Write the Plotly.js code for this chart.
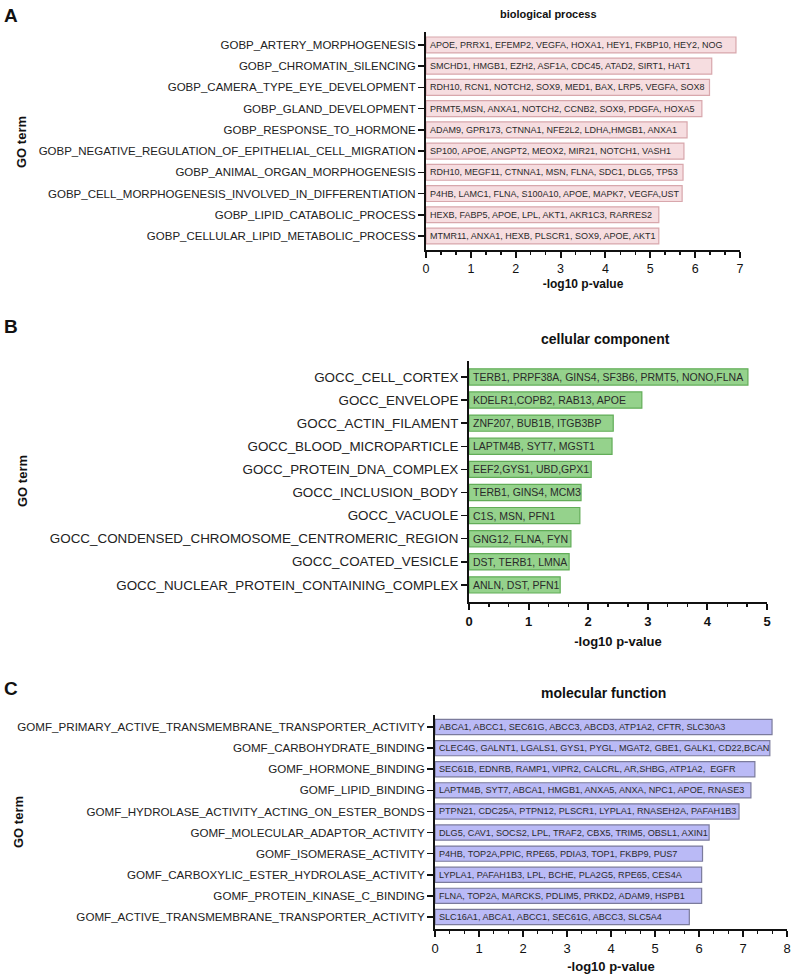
<!DOCTYPE html>
<html>
<head>
<meta charset="utf-8">
<script src="https://cdn.plot.ly/plotly-3.0.1.min.js"></script>
<style>html,body{margin:0;padding:0;background:#fff;}#chart{width:793px;height:980px;}</style>
</head>
<body>
<div id="chart"></div>
<script>
// ---------- DATA ----------
const bpTerms = [
  "GOBP_ARTERY_MORPHOGENESIS",
  "GOBP_CHROMATIN_SILENCING",
  "GOBP_CAMERA_TYPE_EYE_DEVELOPMENT",
  "GOBP_GLAND_DEVELOPMENT",
  "GOBP_RESPONSE_TO_HORMONE",
  "GOBP_NEGATIVE_REGULATION_OF_EPITHELIAL_CELL_MIGRATION",
  "GOBP_ANIMAL_ORGAN_MORPHOGENESIS",
  "GOBP_CELL_MORPHOGENESIS_INVOLVED_IN_DIFFERENTIATION",
  "GOBP_LIPID_CATABOLIC_PROCESS",
  "GOBP_CELLULAR_LIPID_METABOLIC_PROCESS"
];
const bpValues = [6.91, 6.37, 6.32, 6.15, 5.82, 5.75, 5.73, 5.71, 5.19, 5.19];
const bpGenes = [
  "APOE, PRRX1, EFEMP2, VEGFA, HOXA1, HEY1, FKBP10, HEY2, NOG",
  "SMCHD1, HMGB1, EZH2, ASF1A, CDC45, ATAD2, SIRT1, HAT1",
  "RDH10, RCN1, NOTCH2, SOX9, MED1, BAX, LRP5, VEGFA, SOX8",
  "PRMT5,MSN, ANXA1, NOTCH2, CCNB2, SOX9, PDGFA, HOXA5",
  "ADAM9, GPR173, CTNNA1, NFE2L2, LDHA,HMGB1, ANXA1",
  "SP100, APOE, ANGPT2, MEOX2, MIR21, NOTCH1, VASH1",
  "RDH10, MEGF11, CTNNA1, MSN, FLNA, SDC1, DLG5, TP53",
  "P4HB, LAMC1, FLNA, S100A10, APOE, MAPK7, VEGFA,UST",
  "HEXB, FABP5, APOE, LPL, AKT1, AKR1C3, RARRES2",
  "MTMR11, ANXA1, HEXB, PLSCR1, SOX9, APOE, AKT1"
];

const ccTerms = [
  "GOCC_CELL_CORTEX",
  "GOCC_ENVELOPE",
  "GOCC_ACTIN_FILAMENT",
  "GOCC_BLOOD_MICROPARTICLE",
  "GOCC_PROTEIN_DNA_COMPLEX",
  "GOCC_INCLUSION_BODY",
  "GOCC_VACUOLE",
  "GOCC_CONDENSED_CHROMOSOME_CENTROMERIC_REGION",
  "GOCC_COATED_VESICLE",
  "GOCC_NUCLEAR_PROTEIN_CONTAINING_COMPLEX"
];
const ccValues = [4.68, 2.90, 2.42, 2.40, 2.05, 1.88, 1.86, 1.71, 1.68, 1.53];
const ccGenes = [
  "TERB1, PRPF38A, GINS4, SF3B6, PRMT5, NONO,FLNA",
  "KDELR1,COPB2, RAB13, APOE",
  "ZNF207, BUB1B, ITGB3BP",
  "LAPTM4B, SYT7, MGST1",
  "EEF2,GYS1, UBD,GPX1",
  "TERB1, GINS4, MCM3",
  "C1S, MSN, PFN1",
  "GNG12, FLNA, FYN",
  "DST, TERB1, LMNA",
  "ANLN, DST, PFN1"
];

const mfTerms = [
  "GOMF_PRIMARY_ACTIVE_TRANSMEMBRANE_TRANSPORTER_ACTIVITY",
  "GOMF_CARBOHYDRATE_BINDING",
  "GOMF_HORMONE_BINDING",
  "GOMF_LIPID_BINDING",
  "GOMF_HYDROLASE_ACTIVITY_ACTING_ON_ESTER_BONDS",
  "GOMF_MOLECULAR_ADAPTOR_ACTIVITY",
  "GOMF_ISOMERASE_ACTIVITY",
  "GOMF_CARBOXYLIC_ESTER_HYDROLASE_ACTIVITY",
  "GOMF_PROTEIN_KINASE_C_BINDING",
  "GOMF_ACTIVE_TRANSMEMBRANE_TRANSPORTER_ACTIVITY"
];
const mfValues = [7.66, 7.61, 7.27, 7.18, 6.91, 6.23, 6.08, 6.06, 6.06, 5.78];
const mfGenes = [
  "ABCA1, ABCC1, SEC61G, ABCC3, ABCD3, ATP1A2, CFTR, SLC30A3",
  "CLEC4G, GALNT1, LGALS1, GYS1, PYGL, MGAT2, GBE1, GALK1, CD22,BCAN",
  "SEC61B, EDNRB, RAMP1, VIPR2, CALCRL, AR,SHBG, ATP1A2,  EGFR",
  "LAPTM4B, SYT7, ABCA1, HMGB1, ANXA5, ANXA, NPC1, APOE, RNASE3",
  "PTPN21, CDC25A, PTPN12, PLSCR1, LYPLA1, RNASEH2A, PAFAH1B3",
  "DLG5, CAV1, SOCS2, LPL, TRAF2, CBX5, TRIM5, OBSL1, AXIN1",
  "P4HB, TOP2A,PPIC, RPE65, PDIA3, TOP1, FKBP9, PUS7",
  "LYPLA1, PAFAH1B3, LPL, BCHE, PLA2G5, RPE65, CES4A",
  "FLNA, TOP2A, MARCKS, PDLIM5, PRKD2, ADAM9, HSPB1",
  "SLC16A1, ABCA1, ABCC1, SEC61G, ABCC3, SLC5A4"
];

const panelTitles = ["biological process", "cellular component", "molecular function"];
const panelLetters = ["A", "B", "C"];
const xTitle = "-log10 p-value";
const yTitle = "GO term";

// ---------- LAYOUT HELPERS ----------
const W = 793, H = 980;
const fx = px => px / W;
const fy = py => 1 - py / H;
const FONT = "Liberation Sans, Arial, sans-serif";

const panels = [
  {terms: bpTerms, vals: bpValues, genes: bpGenes, fill: "#f6dde0", line: "#d8a7ac",
   x0: 426, x1: 740, yTop: 32, yBot: 250, xmax: 7, yr: [9.66, -0.61], bw: 0.75,
   tickSize: 11.5, geneSize: 9.0, xTickSize: 12.5, xTickWeight: "normal", xTitleSize: 12, standoff: 5,
   title: {x: 548, y: 14, size: 11}, letter: {x: 2, y: 16}, ytl: {x: 22, y: 142}},
  {terms: ccTerms, vals: ccValues, genes: ccGenes, fill: "#95d28c", line: "#62ad58",
   x0: 469, x1: 767, yTop: 361, yBot: 602, xmax: 5, yr: [9.74, -0.69], bw: 0.7,
   tickSize: 13.4, geneSize: 10.5, xTickSize: 13, xTickWeight: "bold", xTitleSize: 13, standoff: 9,
   title: {x: 605, y: 339, size: 14}, letter: {x: 2, y: 326}, ytl: {x: 22, y: 481}},
  {terms: mfTerms, vals: mfValues, genes: mfGenes, fill: "#babaf6", line: "#7b7b9c",
   x0: 435, x1: 787, yTop: 715, yBot: 929, xmax: 8, yr: [9.57, -0.57], bw: 0.72,
   tickSize: 11.6, geneSize: 9.1, xTickSize: 13, xTickWeight: "normal", xTitleSize: 13, standoff: 7,
   title: {x: 603, y: 693, size: 14}, letter: {x: 2, y: 688}, ytl: {x: 18, y: 822}}
];

const data = [];
const layout = {
  width: W, height: H,
  margin: {l: 0, r: 0, t: 0, b: 0},
  paper_bgcolor: "#ffffff", plot_bgcolor: "rgba(0,0,0,0)",
  showlegend: false,
  font: {family: FONT, color: "#222"},
  annotations: []
};

panels.forEach((p, i) => {
  const n = i === 0 ? "" : String(i + 1);
  data.push({
    type: "bar", orientation: "h",
    x: p.vals, y: p.terms,
    xaxis: "x" + n, yaxis: "y" + n,
    width: p.bw,
    marker: {color: p.fill, line: {color: p.line, width: 1.2}},
    hoverinfo: "x+y"
  });
  layout["xaxis" + n] = {
    domain: [fx(p.x0), fx(p.x1)],
    anchor: "y" + n,
    range: [0, p.xmax],
    dtick: 1, tick0: 0,
    showgrid: false, zeroline: false,
    showline: true, linecolor: "#111", linewidth: 2,
    ticks: "outside", ticklen: 6, tickwidth: 2, tickcolor: "#111",
    minor: {dtick: 1 / 3, ticks: "outside", ticklen: 3, tickwidth: 1.5, tickcolor: "#111", showgrid: false},
    tickfont: {family: FONT, size: p.xTickSize, color: "#111", weight: p.xTickWeight},
    title: {text: "<b>" + xTitle + "</b>", font: {family: FONT, size: p.xTitleSize, color: "#111"}, standoff: p.standoff},
    fixedrange: true
  };
  layout["yaxis" + n] = {
    domain: [fy(p.yBot), fy(p.yTop)],
    anchor: "x" + n,
    type: "category",
    categoryorder: "array", categoryarray: p.terms,
    range: p.yr,
    showgrid: false, zeroline: false,
    showline: true, linecolor: "#111", linewidth: 2,
    ticks: "outside", ticklen: 6, tickwidth: 1.5, tickcolor: "#111",
    tickfont: {family: FONT, size: p.tickSize, color: "#222"},
    fixedrange: true
  };
  // gene labels inside bars
  p.genes.forEach((g, k) => {
    layout.annotations.push({
      xref: "x" + n, yref: "y" + n, x: 0, y: p.terms[k],
      xanchor: "left", yanchor: "middle", xshift: 2,
      text: g, showarrow: false,
      font: {family: FONT, size: p.geneSize, color: "#2a2a2a"}
    });
  });
  // panel title
  layout.annotations.push({
    xref: "paper", yref: "paper", x: fx(p.title.x), y: fy(p.title.y),
    xanchor: "center", yanchor: "middle", showarrow: false,
    text: "<b>" + panelTitles[i] + "</b>",
    font: {family: FONT, size: p.title.size, color: "#111"}
  });
  // panel letter
  layout.annotations.push({
    xref: "paper", yref: "paper", x: fx(p.letter.x), y: fy(p.letter.y),
    xanchor: "left", yanchor: "middle", showarrow: false,
    text: "<b>" + panelLetters[i] + "</b>",
    font: {family: FONT, size: 19, color: "#111"}
  });
  // y axis title
  layout.annotations.push({
    xref: "paper", yref: "paper", x: fx(p.ytl.x), y: fy(p.ytl.y),
    xanchor: "center", yanchor: "middle", showarrow: false, textangle: -90,
    text: "<b>" + yTitle + "</b>",
    font: {family: FONT, size: 13, color: "#111"}
  });
});

Plotly.newPlot("chart", data, layout, {staticPlot: true, displayModeBar: false});
</script>
</body>
</html>
